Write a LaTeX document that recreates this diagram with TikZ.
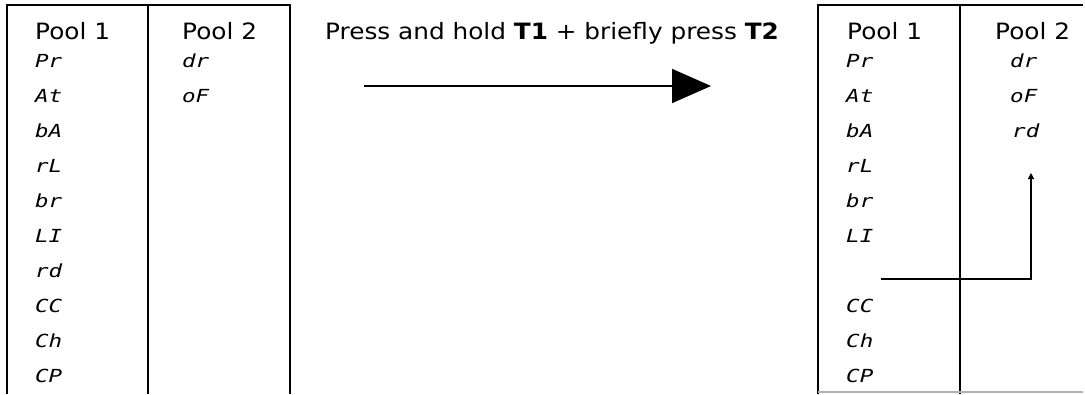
\documentclass[tikz,border=0pt]{standalone}
\usepackage{fontspec}
\setmainfont{DejaVu Sans}[FakeStretch=1.1]
\newfontfamily\segfont{DejaVu Sans Mono}[FakeStretch=1.25]
\usetikzlibrary{arrows.meta}
\newcommand{\rowY}[1]{67+35.1*#1}

\begin{document}
\begin{tikzpicture}[x=1pt,y=-1pt,
		every node/.style={inner sep=0pt,anchor=base west,font=\fontsize{22.5}{26}\selectfont},
		seglabel/.style={font=\fontsize{18}{22}\selectfont\segfont\itshape}]
		\useasboundingbox (0,0) rectangle (1085,394);
		
		% table frames
		\begin{scope}[line width=2pt]
			\draw (7,394) to (7,5) to (290,5) to (290,394);
			\draw (148,5) to (148,394);
			\draw (818,394) to (818,5) to (1083,5);
			\draw (960,5) to (960,394);
		\end{scope}
		\draw[gray!60,line width=1.2pt] (818,392) to (1083,392);
		
		% before
		\node (L1) at (35,39) {Pool 1};
		\node (L2) at (182,39) {Pool 2};
		\foreach \lbl [count=\i from 0] in {Pr,At,bA,rL,br,LI,rd,CC,Ch,CP}
			\node[seglabel] (l\i) at (35,{\rowY{\i}}) {\lbl};
		\node[seglabel] (m0) at (182,{\rowY{0}}) {dr};
		\node[seglabel] (m1) at (182,{\rowY{1}}) {oF};
		
		% after
		\node (R1) at (847,39) {Pool 1};
		\node (R2) at (995,39) {Pool 2};
		\foreach \i/\lbl in {0/Pr,1/At,2/bA,3/rL,4/br,5/LI,7/CC,8/Ch,9/CP}
			\node[seglabel] (r\i) at (846,{\rowY{\i}}) {\lbl};
		\node[seglabel] (s0) at (1010,{\rowY{0}}) {dr};
		\node[seglabel] (s1) at (1010,{\rowY{1}}) {oF};
		\node[seglabel] (s2) at (1012,{\rowY{2}}) {rd};
		
		% key press
		\node (T) at (325,39) {Press and hold \textbf{T1} + briefly press \textbf{T2}};
		\coordinate (a) at (364,86);
		\coordinate (b) at (711,86);
		\draw[line width=2pt,-{Triangle[length=39pt,width=34pt]}] (a) to (b);
		
		% moved entry
		\coordinate (c) at (881,279);
		\coordinate (d) at (1031,279);
		\coordinate (e) at (1031,173);
		\draw[line width=1.2pt,-{Triangle[length=6pt,width=6pt]}] (c) to (d) to (e);
	\end{tikzpicture}
\end{document}
